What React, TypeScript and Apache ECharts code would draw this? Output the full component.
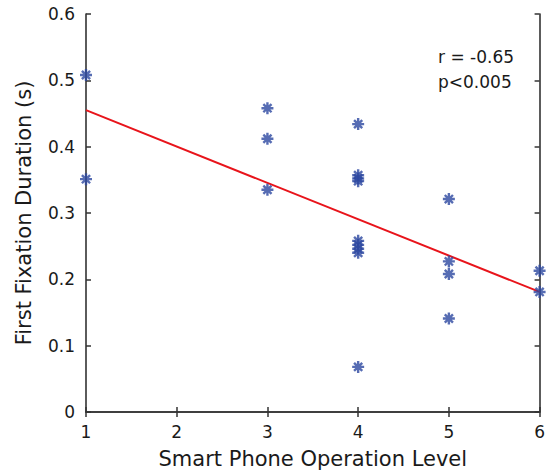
import React, { useEffect, useRef } from "react";
import * as echarts from "echarts";

const xTicks = [1, 2, 3, 4, 5, 6];
const yTicks = [0, 0.1, 0.2, 0.3, 0.4, 0.5, 0.6];

const levels = [1, 1, 3, 3, 3, 4, 4, 4, 4, 4, 4, 4, 4, 4, 5, 5, 5, 5, 6, 6];
const durations = [
  0.508, 0.351, 0.458, 0.412, 0.335, 0.434, 0.357, 0.352, 0.348, 0.258, 0.252,
  0.246, 0.24, 0.068, 0.321, 0.227, 0.208, 0.141, 0.213, 0.181,
];

const fitX = [1, 6];
const fitY = [0.455, 0.181];

const statLines = ["r = -0.65", "p<0.005"];

const FONT = "DejaVu Sans";
const AXIS_COLOR = "#333333";
const TEXT_COLOR = "#1a1a1a";
const MARKER_COLOR = "#2c47a0";
const FIT_COLOR = "#e8141b";

export default function App() {
  const ref = useRef<HTMLDivElement>(null);

  useEffect(() => {
    if (!ref.current) return;
    const chart = echarts.init(ref.current, undefined, { renderer: "svg" });

    const points = levels.map((x, i) => [x, durations[i]]);
    const fit = fitX.map((x, i) => [x, fitY[i]]);

    const baseAxisLine = { show: true, lineStyle: { color: AXIS_COLOR, width: 1.6 } };
    const baseTick = { show: true, inside: true, length: 5, lineStyle: { color: AXIS_COLOR, width: 1.5 } };

    chart.setOption({
      animation: false,
      backgroundColor: "#ffffff",
      textStyle: { fontFamily: FONT },
      grid: { left: 86, right: 3, top: 14, bottom: 63, containLabel: false },
      xAxis: [
        {
          type: "value",
          min: xTicks[0],
          max: xTicks[xTicks.length - 1],
          interval: 1,
          position: "bottom",
          name: "Smart Phone Operation Level",
          nameLocation: "middle",
          nameGap: 36,
          nameTextStyle: { fontFamily: FONT, fontSize: 21, color: TEXT_COLOR },
          axisLine: baseAxisLine,
          axisTick: baseTick,
          axisLabel: { fontFamily: FONT, fontSize: 17, color: TEXT_COLOR, margin: 11 },
          splitLine: { show: false },
        },
        {
          type: "value",
          min: xTicks[0],
          max: xTicks[xTicks.length - 1],
          interval: 1,
          position: "top",
          axisLine: baseAxisLine,
          axisTick: baseTick,
          axisLabel: { show: false },
          splitLine: { show: false },
        },
      ],
      yAxis: [
        {
          type: "value",
          min: yTicks[0],
          max: yTicks[yTicks.length - 1],
          interval: 0.1,
          position: "left",
          name: "First Fixation Duration (s)",
          nameLocation: "middle",
          nameGap: 52,
          nameTextStyle: { fontFamily: FONT, fontSize: 21, color: TEXT_COLOR },
          axisLine: baseAxisLine,
          axisTick: baseTick,
          axisLabel: {
            fontFamily: FONT,
            fontSize: 17,
            color: TEXT_COLOR,
            margin: 11,
            formatter: (v: number) => (v === 0 ? "0" : v.toFixed(1)),
          },
          splitLine: { show: false },
        },
        {
          type: "value",
          min: yTicks[0],
          max: yTicks[yTicks.length - 1],
          interval: 0.1,
          position: "right",
          axisLine: baseAxisLine,
          axisTick: baseTick,
          axisLabel: { show: false },
          splitLine: { show: false },
        },
      ],
      series: [
        {
          type: "line",
          data: fit,
          showSymbol: false,
          symbol: "none",
          lineStyle: { color: FIT_COLOR, width: 2 },
          z: 2,
          clip: false,
        },
        {
          type: "scatter",
          data: points,
          symbol: "path://M5 0L5 10M0 5L10 5M1.6 1.6L8.4 8.4M8.4 1.6L1.6 8.4",
          symbolSize: 12,
          itemStyle: { color: MARKER_COLOR, borderColor: MARKER_COLOR, borderWidth: 2.4 },
          z: 3,
          clip: false,
        },
      ],
      graphic: statLines.map((t, i) => ({
        type: "text",
        x: 438,
        y: 57 + i * 25,
        style: {
          text: t,
          font: `17px "${FONT}"`,
          fill: TEXT_COLOR,
          verticalAlign: "middle",
          align: "left",
        },
      })),
    });

    return () => chart.dispose();
  }, []);

  return (
    <div
      ref={ref}
      style={{ position: "fixed", left: 0, top: 0, width: 548, height: 475 }}
    />
  );
}
